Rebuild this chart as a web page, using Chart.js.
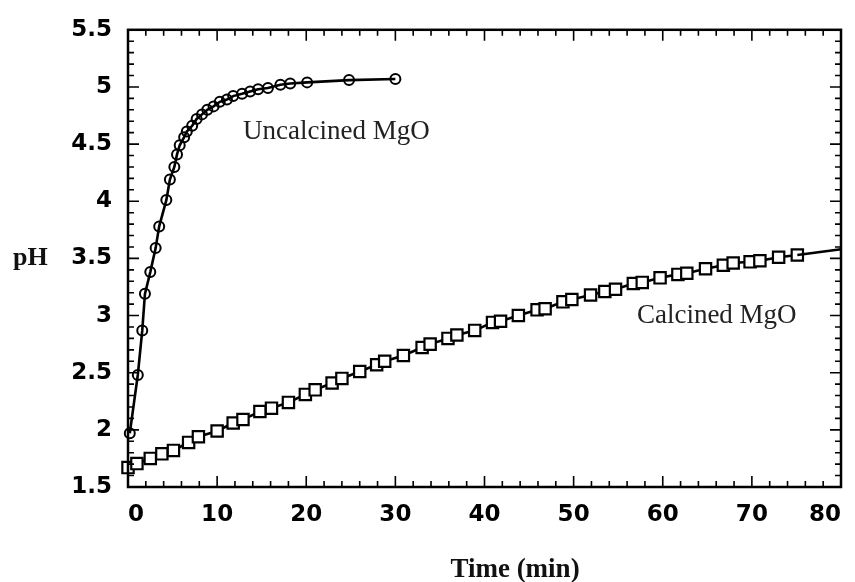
<!DOCTYPE html>
<html>
<head>
<meta charset="utf-8">
<script src="https://cdn.jsdelivr.net/npm/chart.js@4.4.1/dist/chart.umd.min.js"></script>
<style>
  body { margin: 0; background: #fff; }
  #c { display: block; }
</style>
</head>
<body>
<canvas id="c" width="855" height="582"></canvas>
<script>
// datos (tiempo en min, pH)
const uncalcinedTime = [0.2, 1.1, 1.6, 1.9, 2.5, 3.1, 3.5, 4.3, 4.7, 5.2, 5.5, 5.8, 6.3, 6.6, 7.2, 7.7, 8.3, 8.9, 9.6, 10.3, 11.1, 11.8, 12.8, 13.7, 14.6, 15.7, 17.1, 18.2, 20.1, 24.8, 30];
const uncalcinedPH = [1.97, 2.48, 2.87, 3.19, 3.38, 3.59, 3.78, 4.01, 4.19, 4.30, 4.41, 4.49, 4.56, 4.61, 4.66, 4.72, 4.76, 4.80, 4.83, 4.87, 4.89, 4.92, 4.94, 4.96, 4.98, 4.99, 5.02, 5.03, 5.04, 5.06, 5.07];

const calcinedTime = [0, 1, 2.5, 3.8, 5.1, 6.8, 7.9, 10, 11.8, 12.9, 14.8, 16.1, 18, 19.9, 21, 22.9, 24, 26, 27.9, 28.8, 30.9, 33, 33.9, 35.9, 36.9, 38.9, 40.9, 41.8, 43.8, 45.9, 46.8, 48.8, 49.8, 51.9, 53.5, 54.7, 56.7, 57.7, 59.7, 61.7, 62.7, 64.8, 66.8, 67.9, 69.8, 70.9, 73, 75.1];
const calcinedPH = [1.67, 1.705, 1.75, 1.79, 1.82, 1.89, 1.94, 1.99, 2.06, 2.09, 2.16, 2.19, 2.24, 2.31, 2.35, 2.41, 2.45, 2.51, 2.57, 2.60, 2.65, 2.72, 2.75, 2.80, 2.83, 2.87, 2.94, 2.95, 3.00, 3.05, 3.06, 3.12, 3.14, 3.18, 3.21, 3.23, 3.28, 3.29, 3.33, 3.36, 3.37, 3.41, 3.44, 3.46, 3.47, 3.48, 3.51, 3.53];

// la curva ajustada sigue hasta el borde derecho
const calcinedFitTime = [75.1, 80];
const calcinedFitPH = [3.53, 3.58];

const xTicks = [0, 10, 20, 30, 40, 50, 60, 70, 80];
const yTicks = [1.5, 2, 2.5, 3, 3.5, 4, 4.5, 5, 5.5];

function toPoints(xs, ys) {
  const pts = [];
  for (let i = 0; i < xs.length; i++) {
    pts.push({ x: xs[i], y: ys[i] });
  }
  return pts;
}

// marco con marcas de escala hacia adentro en los cuatro lados
const framePlugin = {
  id: "frame",
  afterDatasetsDraw(chart) {
    const ctx = chart.ctx;
    const a = chart.chartArea;
    const xs = chart.scales.x;
    const ys = chart.scales.y;
    ctx.save();
    ctx.strokeStyle = "#000";
    ctx.lineWidth = 2.5;
    ctx.strokeRect(a.left, a.top, a.right - a.left, a.bottom - a.top);
    ctx.lineWidth = 1.6;
    ctx.beginPath();
    for (let t = 0; t <= 80; t += 2) {
      const px = xs.getPixelForValue(t);
      const len = t % 10 === 0 ? 11 : 6;
      ctx.moveTo(px, a.bottom);
      ctx.lineTo(px, a.bottom - len);
      ctx.moveTo(px, a.top);
      ctx.lineTo(px, a.top + len);
    }
    for (let k = 15; k <= 55; k++) {
      const py = ys.getPixelForValue(k / 10);
      const len = k % 5 === 0 ? 11 : 6;
      ctx.moveTo(a.left, py);
      ctx.lineTo(a.left + len, py);
      ctx.moveTo(a.right, py);
      ctx.lineTo(a.right - len, py);
    }
    ctx.stroke();

    ctx.fillStyle = "#222";
    ctx.textBaseline = "middle";
    ctx.textAlign = "left";
    ctx.font = "27px 'Liberation Serif'";
    ctx.fillText("Uncalcined MgO", xs.getPixelForValue(12.9), ys.getPixelForValue(4.61));
    ctx.fillText("Calcined MgO", xs.getPixelForValue(57.1), ys.getPixelForValue(3.0));

    ctx.fillStyle = "#111";
    ctx.font = "bold 26px 'Liberation Serif'";
    ctx.fillText("pH", 13, ys.getPixelForValue(3.5));
    ctx.textAlign = "center";
    ctx.font = "bold 27px 'Liberation Serif'";
    ctx.fillText("Time (min)", 515, 570);
    ctx.restore();
  },
};

const chart = new Chart(document.getElementById("c"), {
  type: "scatter",
  data: {
    datasets: [
      {
        label: "Uncalcined MgO",
        data: toPoints(uncalcinedTime, uncalcinedPH),
        showLine: true,
        borderColor: "#000",
        borderWidth: 2.6,
        pointStyle: "circle",
        pointRadius: 5,
        pointBorderWidth: 2,
        pointBackgroundColor: "rgba(255,255,255,0)",
        pointBorderColor: "#000",
        tension: 0,
      },
      {
        label: "Calcined MgO fit",
        data: toPoints(calcinedFitTime, calcinedFitPH),
        showLine: true,
        borderColor: "#000",
        borderWidth: 2.6,
        pointRadius: 0,
      },
      {
        label: "Calcined MgO",
        data: toPoints(calcinedTime, calcinedPH),
        showLine: true,
        borderColor: "#000",
        borderWidth: 2.6,
        pointStyle: "rect",
        pointRadius: 8,
        pointBorderWidth: 2.2,
        pointBackgroundColor: "#fff",
        pointBorderColor: "#000",
        tension: 0,
      },
    ],
  },
  options: {
    responsive: false,
    animation: false,
    clip: false,
    layout: { padding: { top: 19, right: 14, left: 0, bottom: 0 } },
    plugins: {
      legend: { display: false },
      tooltip: { enabled: false },
    },
    scales: {
      x: {
        type: "linear",
        min: 0,
        max: 80,
        afterBuildTicks(scale) {
          scale.ticks = xTicks.map((v) => ({ value: v }));
        },
        afterFit(scale) {
          scale.height = 95;
        },
        grid: { display: false, drawTicks: false },
        border: { display: false },
        ticks: {
          align: "inner",
          padding: 14,
          color: "#000",
          maxRotation: 0,
          font: { family: "'DejaVu Sans'", weight: "bold", size: 23 },
          callback: (v) => String(v),
        },
      },
      y: {
        type: "linear",
        min: 1.5,
        max: 5.5,
        afterBuildTicks(scale) {
          scale.ticks = yTicks.map((v) => ({ value: v }));
        },
        afterFit(scale) {
          scale.width = 128;
        },
        grid: { display: false, drawTicks: false },
        border: { display: false },
        ticks: {
          padding: 16,
          color: "#000",
          font: { family: "'DejaVu Sans'", weight: "bold", size: 23 },
          callback: (v) => String(Number(v.toFixed(1))),
        },
      },
    },
  },
  plugins: [framePlugin],
});
</script>
</body>
</html>
